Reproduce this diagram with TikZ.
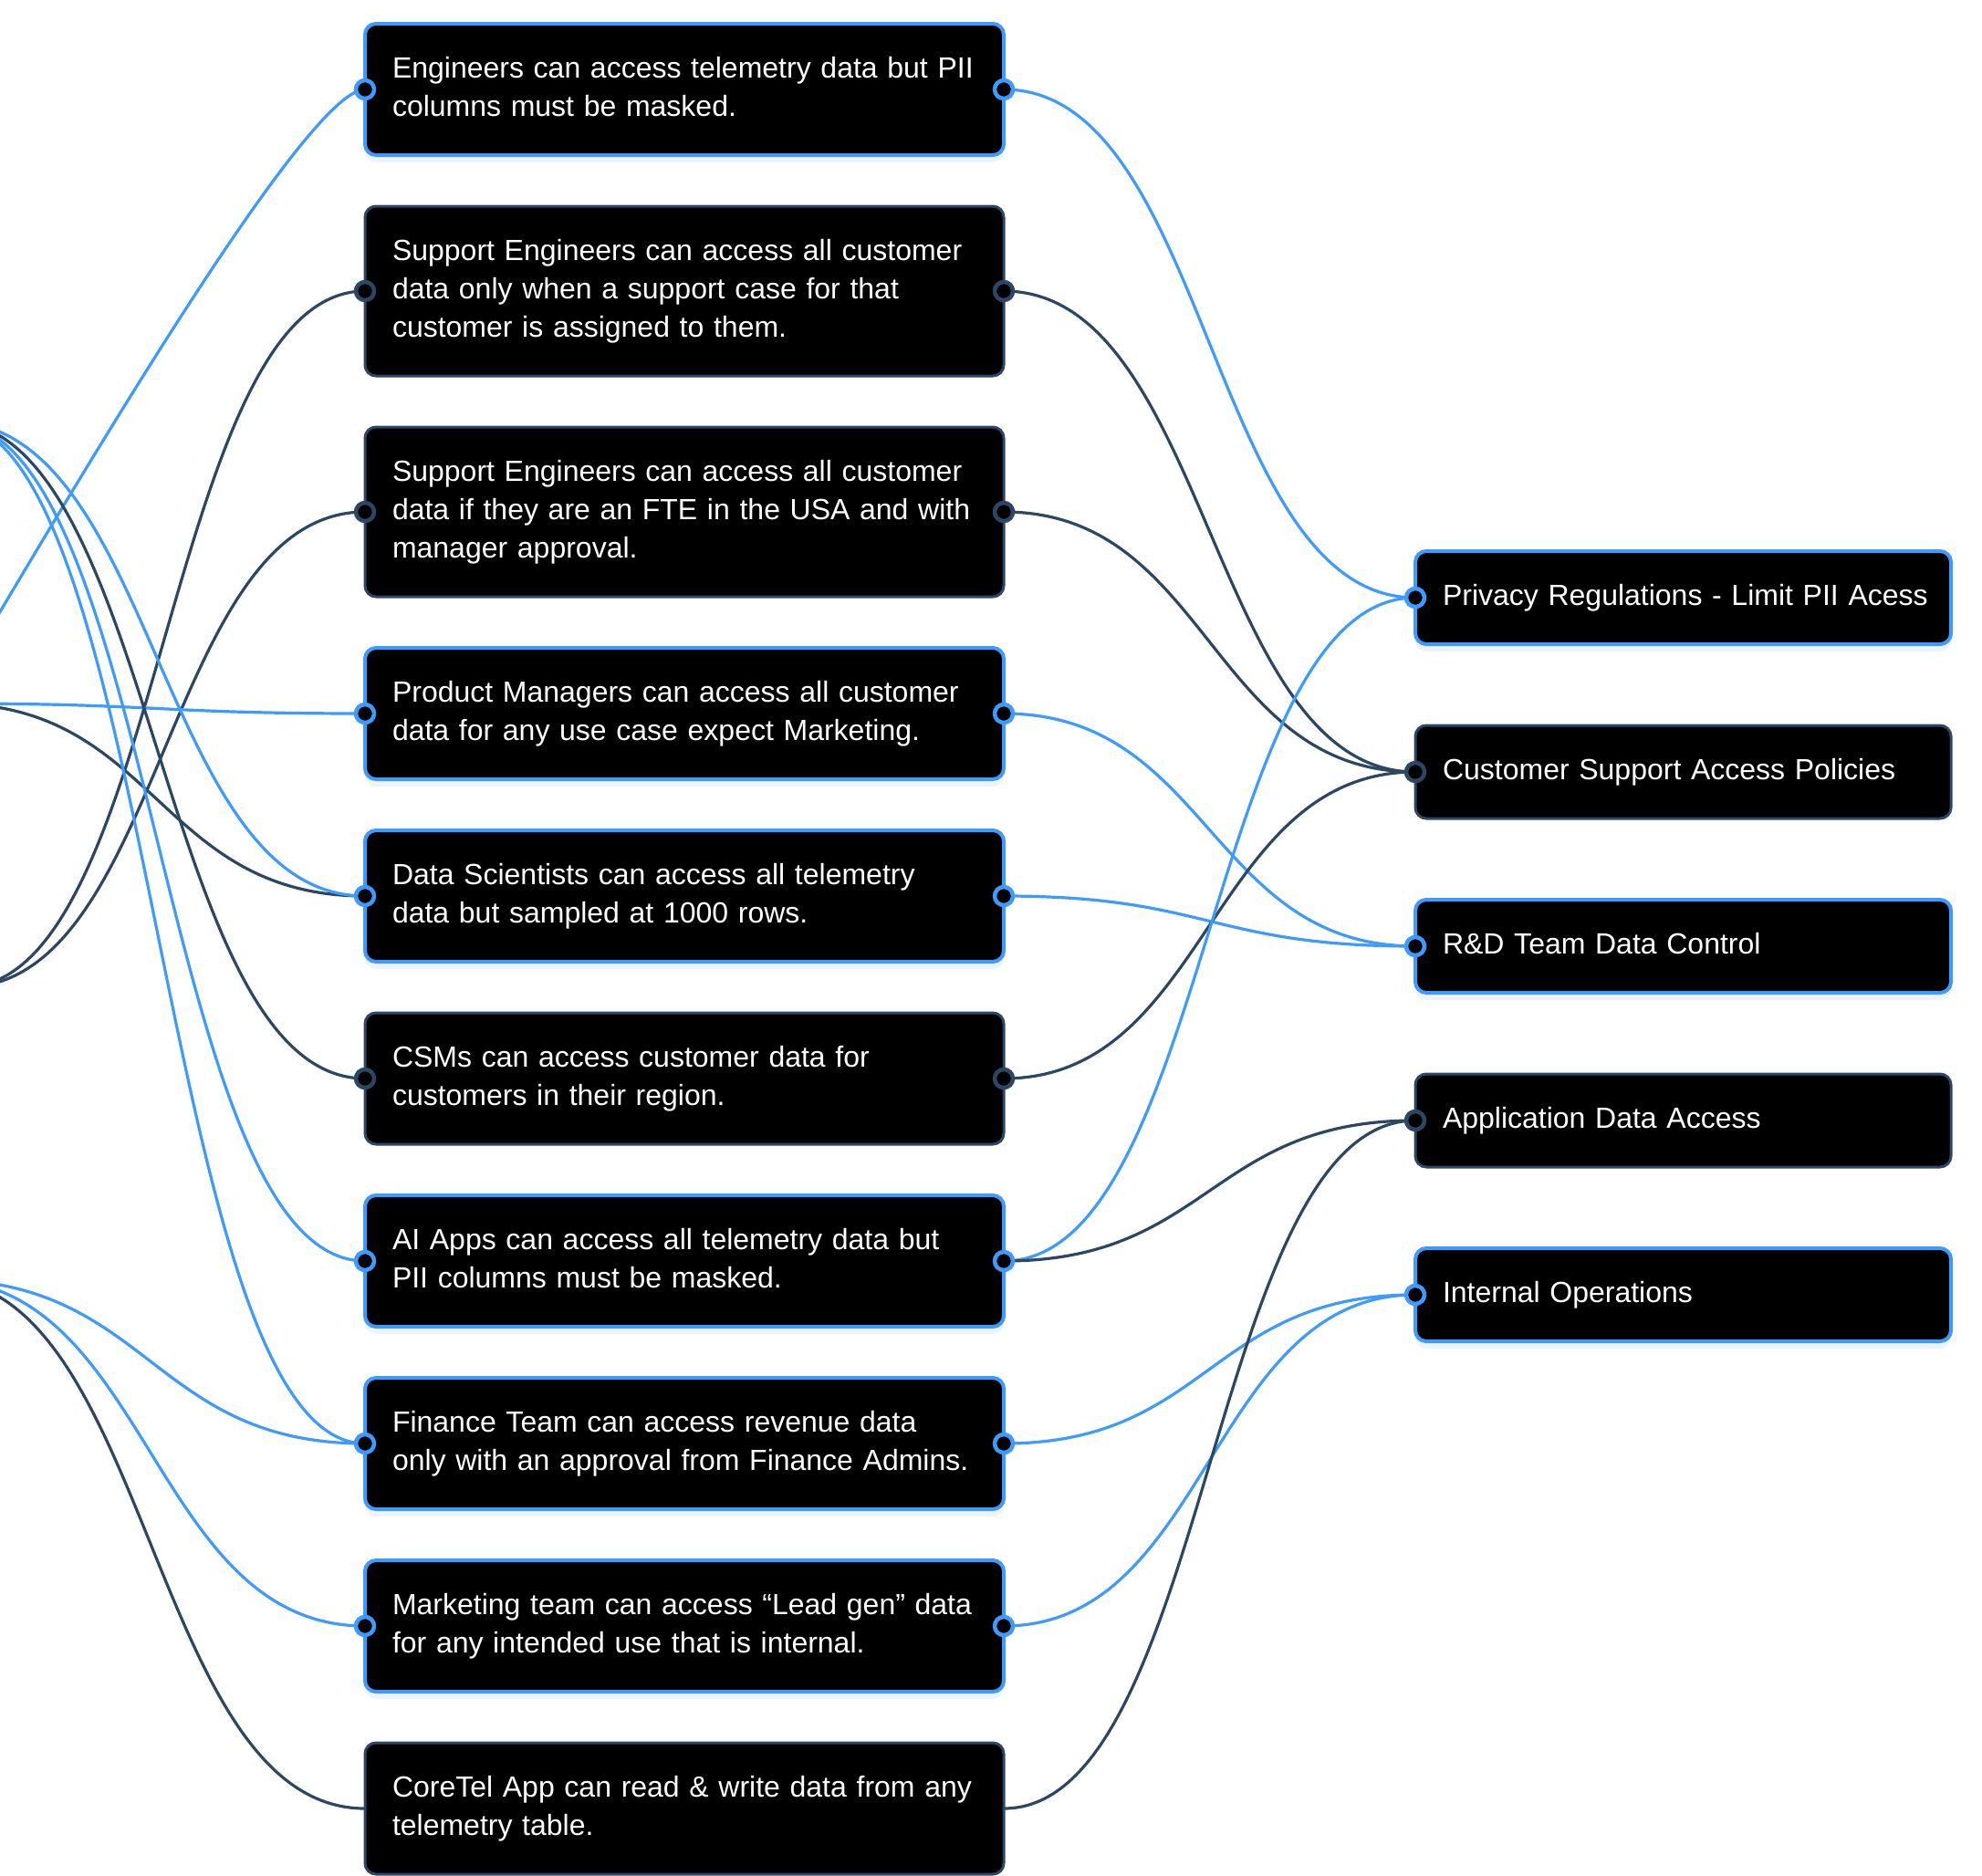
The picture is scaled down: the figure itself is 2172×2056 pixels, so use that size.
\documentclass[tikz,border=0pt]{standalone}
\usepackage{fontspec}
\setmainfont{Liberation Sans}
\usepackage{xcolor}
\usepackage{tikz}
\usetikzlibrary{positioning, shadows}
\definecolor{ruleblue}{HTML}{3D9BFF}
\definecolor{ruledark}{HTML}{2B4764}
\definecolor{glow}{HTML}{EEF4FF}

\begin{document}
\begin{tikzpicture}[x=1pt, y=-1pt,
    card/.style={fill=black, text=white, rounded corners=12pt, align=left,
      font=\fontsize{32}{42}\selectfont, inner xsep=30pt, inner ysep=0pt,
      outer sep=0pt, execute at begin node=\strut, execute at end node=\strut},
    rulebox/.style={card, text width=640pt, minimum height=144pt},
    tallbox/.style={rulebox, minimum height=186pt},
    policybox/.style={card, text width=527pt, minimum height=102pt},
    bluebox/.style={draw=ruleblue, line width=4pt,
      drop shadow={fill=glow, opacity=1, shadow xshift=0pt, shadow yshift=-8pt}},
    darkbox/.style={draw=ruledark, line width=3pt},
    link/.style={line width=3.2pt, line cap=round},
    bluelink/.style={link, draw=ruleblue},
    darklink/.style={link, draw=ruledark},
    flow/.style={to path={.. controls +(#1,0) and +(-#1,0) .. (\tikztotarget)}},
    bluedot/.style={circle, fill=black, draw=ruleblue, line width=4.5pt,
      minimum size=20pt, inner sep=0pt},
    darkdot/.style={bluedot, draw=ruledark}]

  \useasboundingbox (0,0) rectangle (2172,2056);
  \clip (0,0) rectangle (2172,2056);
  \fill[white] (0,0) rectangle (2172,2056);

  % rules
  \node[rulebox, bluebox, anchor=north west] (engineers) at (400,26)
    {Engineers can access telemetry data but PII\\columns must be masked.};
  \node[tallbox, darkbox, below=56pt of engineers] (supportcase)
    {Support Engineers can access all customer\\data only when a support case for that\\customer is assigned to them.};
  \node[tallbox, darkbox, below=56pt of supportcase] (supportfte)
    {Support Engineers can access all customer\\data if they are an FTE in the USA and with\\manager approval.};
  \node[rulebox, bluebox, below=56pt of supportfte] (product)
    {Product Managers can access all customer\\data for any use case expect Marketing.};
  \node[rulebox, bluebox, below=56pt of product] (scientists)
    {Data Scientists can access all telemetry\\data but sampled at 1000 rows.};
  \node[rulebox, darkbox, below=56pt of scientists] (csms)
    {CSMs can access customer data for\\customers in their region.};
  \node[rulebox, bluebox, below=56pt of csms] (aiapps)
    {AI Apps can access all telemetry data but\\PII columns must be masked.};
  \node[rulebox, bluebox, below=56pt of aiapps] (finance)
    {Finance Team can access revenue data\\only with an approval from Finance Admins.};
  \node[rulebox, bluebox, below=56pt of finance] (marketing)
    {Marketing team can access “Lead gen” data\\for any intended use that is internal.};
  \node[rulebox, darkbox, below=56pt of marketing] (coretel)
    {CoreTel App can read \& write data from any\\telemetry table.};

  % policies
  \node[policybox, bluebox, anchor=north west] (privacy) at (1551,604)
    {\mbox{Privacy Regulations - Limit PII Acess}};
  \node[policybox, darkbox, below=89pt of privacy] (support)
    {Customer Support Access Policies};
  \node[policybox, bluebox, below=89pt of support] (rnd)
    {R\&D Team Data Control};
  \node[policybox, darkbox, below=89pt of rnd] (appdata)
    {Application Data Access};
  \node[policybox, bluebox, below=89pt of appdata] (internal)
    {Internal Operations};

  % sources outside the frame
  \coordinate (srcfar) at (-150,925);
  \coordinate (srca) at (-55,462);
  \coordinate (srcb) at (-55,771);
  \coordinate (srcc) at (-40,1082);
  \coordinate (srcd) at (-70,1402);

  \draw[bluelink] (srcfar) .. controls +(180,-305) and +(-70,0) .. (engineers.west);
  \draw[darklink] (srcc) to[flow=220] (supportcase.west);
  \draw[darklink] (srcc) to[flow=220] (supportfte.west);
  \draw[bluelink] (srcb) to[flow=227] (product.west);
  \draw[darklink] (srcb) to[flow=227] (scientists.west);
  \draw[bluelink] (srca) to[flow=227] (scientists.west);
  \draw[darklink] (srca) to[flow=227] (csms.west);
  \draw[bluelink] (srca) to[flow=227] (aiapps.west);
  \draw[bluelink] (srca) to[flow=227] (finance.west);
  \draw[bluelink] (srcd) to[flow=235] (finance.west);
  \draw[bluelink] (srcd) to[flow=235] (marketing.west);
  \draw[darklink] (srcd) to[flow=235] (coretel.west);

  \draw[bluelink] (engineers.east) to[flow=225] (privacy.west);
  \draw[darklink] (supportcase.east) to[flow=225] (support.west);
  \draw[darklink] (supportfte.east) to[flow=225] (support.west);
  \draw[bluelink] (product.east) to[flow=225] (rnd.west);
  \draw[bluelink] (scientists.east) to[flow=225] (rnd.west);
  \draw[darklink] (csms.east) to[flow=225] (support.west);
  \draw[bluelink] (aiapps.east) to[flow=225] (privacy.west);
  \draw[darklink] (aiapps.east) to[flow=225] (appdata.west);
  \draw[bluelink] (finance.east) to[flow=225] (internal.west);
  \draw[bluelink] (marketing.east) to[flow=225] (internal.west);
  \draw[darklink] (coretel.east) to[flow=225] (appdata.west);

  % handles
  \foreach \n in {engineers, product, scientists, aiapps, finance, marketing} {
    \node[bluedot] (\n-in) at (\n.west) {};
    \node[bluedot] (\n-out) at (\n.east) {};
  }
  \foreach \n in {supportcase, supportfte, csms} {
    \node[darkdot] (\n-in) at (\n.west) {};
    \node[darkdot] (\n-out) at (\n.east) {};
  }
  \foreach \n in {privacy, rnd, internal}
    \node[bluedot] (\n-in) at (\n.west) {};
  \foreach \n in {support, appdata}
    \node[darkdot] (\n-in) at (\n.west) {};
\end{tikzpicture}
\end{document}
